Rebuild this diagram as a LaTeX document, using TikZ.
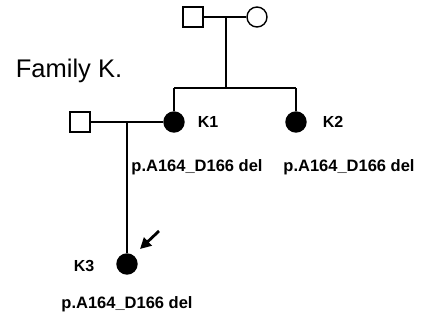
\documentclass[tikz,border=0pt]{standalone}
\usepackage{fontspec}
\setmainfont{Liberation Sans}
\usetikzlibrary{arrows.meta}
\begin{document}
\begin{tikzpicture}[x=1pt,y=-1pt,
  line width=1.4pt,
  male/.style={draw,rectangle,minimum size=20pt,inner sep=0pt,fill=white},
  female/.style={draw,circle,minimum size=20pt,inner sep=0pt,fill=white},
  affected/.style={draw,circle,minimum size=20pt,inner sep=0pt,fill=black},
  idlabel/.style={font=\bfseries\fontsize{16}{18}\selectfont,inner sep=0pt},
  varlabel/.style={font=\bfseries\fontsize{16.5}{19}\selectfont,inner sep=0pt},
  famlabel/.style={font=\fontsize{25.5}{30}\selectfont,inner sep=0pt},
  proband/.style={-{Triangle[length=11pt,width=11pt]},line width=2.8pt}]
\useasboundingbox (0,0) rectangle (432,325);

% generation I
\node[male]   (gf) at (193,17) {};
\node[female] (gm) at (257,17) {};
% generation II
\node[male]     (sp) at (80,122) {};
\node[affected] (k1) at (174,122) {};
\node[affected] (k2) at (296,122) {};
% generation III
\node[affected] (k3) at (127,264) {};

% marriage and descent lines
\coordinate (m1) at (226,17);
\coordinate (s1) at (226,88);
\coordinate (s1l) at (174,88);
\coordinate (s1r) at (296,88);
\draw (gf) -- (gm);
\draw (m1) -- (s1);
\draw (s1l) -- (s1r);
\draw (s1l) -- (k1);
\draw (s1r) -- (k2);
\draw (sp) -- (k1);
\coordinate (m2) at (127,122);
\draw (m2) -- (k3);

% proband arrow
\coordinate (pa) at (159,231);
\coordinate (pb) at (140,249);
\draw[proband] (pa) -- (pb);

% labels
\node[famlabel] (fam) at (69,71) {Family K.};
\node[idlabel] (l1) at (208,122) {K1};
\node[idlabel] (l2) at (333,122) {K2};
\node[idlabel] (l3) at (84,266) {K3};
\node[varlabel] (v1) at (197,167) {p.A164\_D166 del};
\node[varlabel] (v2) at (349,167) {p.A164\_D166 del};
\node[varlabel] (v3) at (127,304) {p.A164\_D166 del};
\end{tikzpicture}
\end{document}
